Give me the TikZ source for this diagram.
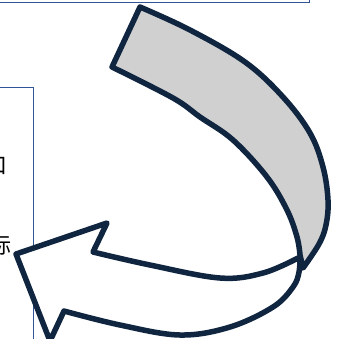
\documentclass[tikz,border=0pt]{standalone}
\usepackage{xcolor}
\usepackage{fontspec}
\usepackage{tikz}
\newfontfamily\cjk{Noto Sans CJK SC}
\definecolor{arrownavy}{RGB}{16,37,64}
\definecolor{bandgray}{RGB}{208,208,208}
\definecolor{boxblue}{RGB}{47,85,151}
\tikzset{
  boxline/.style={draw=boxblue, line width=0.9pt},
  ribbon/.style={draw=arrownavy, line width=5.5pt, line join=round},
  cuttext/.style={anchor=east, inner sep=0pt, font=\cjk\fontsize{22}{22}\selectfont}
}

\begin{document}
\begin{tikzpicture}[x=1pt, y=-1pt]
  \useasboundingbox (0,0) rectangle (344,338);
  \clip (0,0) rectangle (344,338);

  % Boxes behind the arrow
  \draw[boxline] (-5,2) -- (309,2) -- (309,-5);
  \draw[boxline] (-5,87) -- (33,87) -- (33,345);
  \node[cuttext] (mouth) at (8,166) {口};
  \node[cuttext] (edge) at (12,246) {际};

  % Back of the ribbon
  \filldraw[ribbon, fill=bandgray]
    plot[smooth, tension=0.6] coordinates {(140,7) (190,30) (245,62) (283,97) (310,133) (323,167) (328,200) (326,225) (319,244) (303,268)}
    -- plot[smooth, tension=0.6] coordinates {(300,255) (297,237) (287,210) (267,177) (233,140) (200,117) (173,98) (112,67)}
    -- cycle;

  % Front with the head
  \filldraw[ribbon, fill=white]
    plot[smooth, tension=0.6] coordinates {(300,255) (299,272) (293,287) (273,307) (230,327) (180,335) (120,325) (64,311)}
    -- (50,341) -- (16,254) -- (107,223) -- (93,252)
    -- plot[smooth, tension=0.6] coordinates {(93,252) (150,265) (220,278) (263,273) (298,258)};
\end{tikzpicture}
\end{document}
